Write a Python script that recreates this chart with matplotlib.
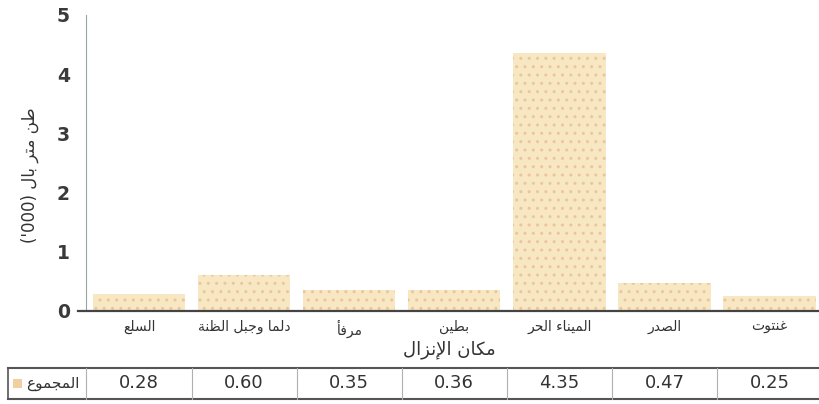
"""Landing tonnage by site: Arabic bar chart with a data table underneath."""
import matplotlib
matplotlib.use("Agg")
import matplotlib.pyplot as plt
from matplotlib.transforms import blended_transform_factory

SITES = ["السلع", "دلما وجبل الظنة", "مرفأ", "بطين", "الميناء الحر", "الصدر", "غنتوت"]
TOTALS = [0.28, 0.60, 0.35, 0.36, 4.35, 0.47, 0.25]
YTICKS = [0, 1, 2, 3, 4, 5]
YLABEL = "طن متر بال"
YUNIT = "('000)"
XLABEL = "مكان الإنزال"
ROW_LABEL = "المجموع"

# isolated, final, initial, medial (None = letter does not join to the next)
FORMS = {
    "ا": (0xFE8D, 0xFE8E, None, None), "أ": (0xFE83, 0xFE84, None, None),
    "إ": (0xFE87, 0xFE88, None, None), "ء": (0xFE80, 0xFE80, None, None),
    "د": (0xFEA9, 0xFEAA, None, None), "ر": (0xFEAD, 0xFEAE, None, None),
    "ز": (0xFEAF, 0xFEB0, None, None), "و": (0xFEED, 0xFEEE, None, None),
    "ة": (0xFE93, 0xFE94, None, None),
    "ب": (0xFE8F, 0xFE90, 0xFE91, 0xFE92), "ت": (0xFE95, 0xFE96, 0xFE97, 0xFE98),
    "ج": (0xFE9D, 0xFE9E, 0xFE9F, 0xFEA0), "ح": (0xFEA1, 0xFEA2, 0xFEA3, 0xFEA4),
    "س": (0xFEB1, 0xFEB2, 0xFEB3, 0xFEB4), "ص": (0xFEB9, 0xFEBA, 0xFEBB, 0xFEBC),
    "ط": (0xFEC1, 0xFEC2, 0xFEC3, 0xFEC4), "ظ": (0xFEC5, 0xFEC6, 0xFEC7, 0xFEC8),
    "ع": (0xFEC9, 0xFECA, 0xFECB, 0xFECC), "غ": (0xFECD, 0xFECE, 0xFECF, 0xFED0),
    "ف": (0xFED1, 0xFED2, 0xFED3, 0xFED4), "ك": (0xFED9, 0xFEDA, 0xFEDB, 0xFEDC),
    "ل": (0xFEDD, 0xFEDE, 0xFEDF, 0xFEE0), "م": (0xFEE1, 0xFEE2, 0xFEE3, 0xFEE4),
    "ن": (0xFEE5, 0xFEE6, 0xFEE7, 0xFEE8), "ي": (0xFEF1, 0xFEF2, 0xFEF3, 0xFEF4),
}
LAM_ALEF = {"ا": (0xFEFB, 0xFEFC), "أ": (0xFEF7, 0xFEF8), "إ": (0xFEF9, 0xFEFA)}


def shape(text):
    """Tiny Arabic shaper: contextual forms + lam-alef, returned in visual order."""
    chars = list(text)
    out = []
    i = 0
    while i < len(chars):
        c = chars[i]
        if c not in FORMS:
            out.append(c)
            i += 1
            continue
        prev = chars[i - 1] if i > 0 else None
        joins_prev = prev in FORMS and FORMS[prev][2] is not None
        nxt = chars[i + 1] if i + 1 < len(chars) else None
        if c == "ل" and nxt in LAM_ALEF:
            out.append(chr(LAM_ALEF[nxt][1 if joins_prev else 0]))
            i += 2
            continue
        iso, fin, ini, med = FORMS[c]
        joins_next = ini is not None and nxt in FORMS and nxt != "ء"
        if joins_prev and joins_next:
            g = med
        elif joins_prev:
            g = fin
        elif joins_next:
            g = ini
        else:
            g = iso
        out.append(chr(g))
        i += 1
    return "".join(reversed(out))


plt.rcParams["font.family"] = ["DejaVu Sans"]

fig = plt.figure(figsize=(8.2, 4.04), dpi=100)
ax = fig.add_axes([78 / 820, 1 - 311 / 404, 1 - 78 / 820, (311 - 15) / 404])

x = list(range(len(SITES)))
ax.bar(x, TOTALS, width=0.88, color="#F7E7C2", edgecolor="#EDC59C",
       hatch="..", linewidth=0, zorder=2)

# spines first: moving a spine resets the ticks
ax.spines["top"].set_visible(False)
ax.spines["right"].set_visible(False)
ax.spines["left"].set_position(("data", -0.5))
ax.spines["left"].set_color("#9aa4a8")
ax.spines["left"].set_linewidth(0.8)
ax.spines["bottom"].set_color("#444")
ax.spines["bottom"].set_linewidth(1.6)

ax.set_xlim(-0.58, 6.48)
ax.set_ylim(0, 5)
ax.set_yticks(YTICKS)
ax.set_xticks(x)
ax.set_xticklabels([shape(s) for s in SITES])
ax.tick_params(axis="x", length=0, pad=6, labelsize=10, labelcolor="#333")
ax.tick_params(axis="y", length=0, pad=12, labelsize=13.5, labelcolor="#3a3a3a")
for lab in ax.get_yticklabels():
    lab.set_fontweight("bold")

ax.set_xlabel(shape(XLABEL), fontsize=13, color="#333", labelpad=2)
fig.text(30 / 820, 1 - 175 / 404, YUNIT + " " + shape(YLABEL), rotation=90,
         ha="center", va="center", fontsize=12, color="#333")

# data table below the chart
tr = blended_transform_factory(ax.transData, fig.transFigure)
y_top, y_bot = 1 - 368 / 404, 1 - 399 / 404
y_mid = (y_top + y_bot) / 2
fig.add_artist(plt.Line2D([8 / 820, 1], [y_top, y_top], color="#555",
                          lw=1.5, transform=fig.transFigure))
fig.add_artist(plt.Line2D([8 / 820, 1], [y_bot, y_bot], color="#555",
                          lw=1.5, transform=fig.transFigure))
fig.add_artist(plt.Line2D([8 / 820, 8 / 820], [y_bot, y_top], color="#555",
                          lw=1.2, transform=fig.transFigure))
for k in range(len(SITES)):
    fig.add_artist(plt.Line2D([k - 0.5, k - 0.5], [y_bot, y_top], color="#b0b0b0",
                              lw=0.8, transform=tr))
for k, v in enumerate(TOTALS):
    fig.text(k, y_mid, f"{v:.2f}", transform=tr, ha="center", va="center",
             fontsize=13, color="#333")
fig.text(80 / 820, y_mid, shape(ROW_LABEL), ha="right", va="center",
         fontsize=11, color="#333")
fig.patches.append(plt.Rectangle((13 / 820, y_mid - 0.012), 9 / 820, 0.024,
                                 transform=fig.transFigure, facecolor="#F2CFA0",
                                 edgecolor="none", figure=fig))

fig.savefig("out.png", dpi=100)
